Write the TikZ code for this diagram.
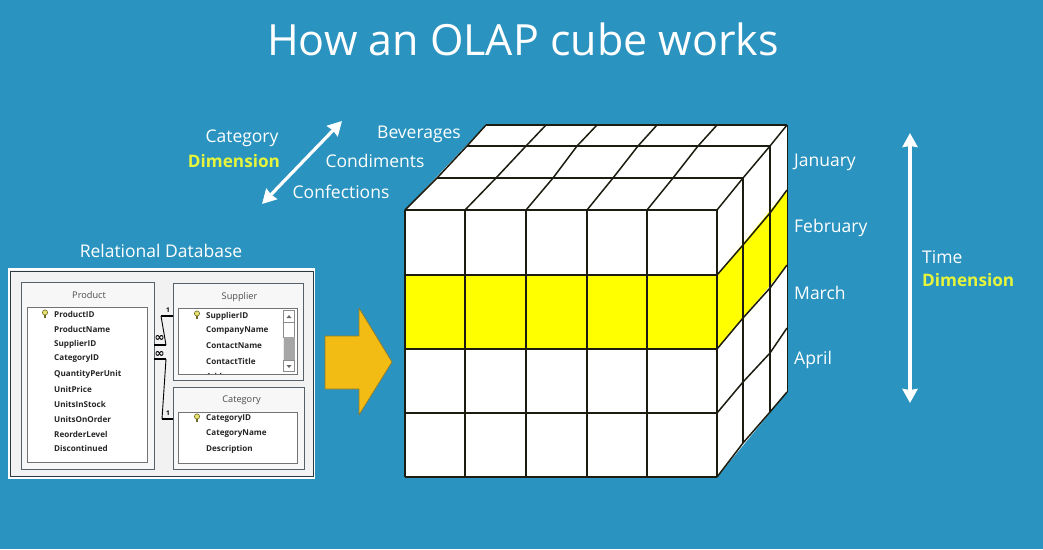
\documentclass[tikz,border=0pt]{standalone}
\usepackage{fontspec}
\usetikzlibrary{arrows.meta}
\setmainfont{Open Sans}
\newfontfamily\dbfont{Open Sans}
\newfontfamily\symfont{DejaVu Sans}
\definecolor{bgblue}{HTML}{2A93BF}
\definecolor{dimyel}{HTML}{E6F53C}
\definecolor{cubeyel}{HTML}{FFFF00}
\definecolor{cubeline}{HTML}{1C1C10}
\definecolor{arrowor}{HTML}{F2BC14}
\definecolor{arrowedge}{HTML}{8C7A30}
\definecolor{paneldark}{HTML}{2B3A40}
\tikzset{
 x=1pt,y=-1pt,
 lbl/.style={text=white,font=\fontsize{17.5}{19}\selectfont,inner sep=0pt},
 dimlbl/.style={text=dimyel,font=\fontsize{17.2}{19}\bfseries\selectfont,inner sep=0pt},
 cubeedge/.style={draw=cubeline,line width=1.5pt,line join=round},
 dblarrow/.style={draw=white,line width=3.2pt,{Stealth[length=14pt,width=15pt,inset=1pt]}-{Stealth[length=14pt,width=15pt,inset=1pt]}},
 tbox/.style={draw=paneldark!80,line width=.8pt,fill=black!3},
 ibox/.style={draw=black!55,line width=.6pt,fill=white},
 field/.style={anchor=west,inner sep=0pt,text=black!85,font=\dbfont\fontsize{8.1}{9}\bfseries\selectfont},
 ttl/.style={inner sep=0pt,text=black!70,font=\dbfont\fontsize{9.2}{10}\selectfont},
 rel/.style={draw=black,line width=.9pt},
 relthick/.style={draw=black,line width=2pt},
 card/.style={inner sep=0pt,font=\dbfont\fontsize{6.5}{7}\bfseries\selectfont},
 inf/.style={inner sep=0pt,font=\symfont\fontsize{12}{12}\bfseries\selectfont},
 keyicon/.pic={\draw[draw=olive!70!black,fill=yellow!60!olive!50,line width=.6pt] (0,-1.5) circle (2.6);
   \draw[olive!70!black,line width=1.3pt] (0,1) -- (0,4);}
}
\begin{document}
\begin{tikzpicture}
\useasboundingbox (0,0) rectangle (1043,549);
\fill[bgblue] (0,0) rectangle (1043,549);
% title
\node[text=white,inner sep=0pt,font=\fontsize{43}{50}\selectfont] (title) at (523,39) {How an OLAP cube works};
% cube body
\fill[white] (405,210) -- (486,125) -- (787,125) -- (787,392) -- (717,477) -- (405,477) -- cycle;
% yellow bands
\fill[cubeyel] (405,275) rectangle (717,349);
\fill[cubeyel] (717,275) -- (787,190) -- (787,265) -- (717,349) -- cycle;
% front grid
\foreach \x in {405,465,526,587,647,717} \draw[cubeedge] (\x,210) -- (\x,477);
\foreach \y in {210,275,349,413,477} \draw[cubeedge] (405,\y) -- (717,\y);
% side verticals
\draw[cubeedge] (743,178) -- (743,443);
\draw[cubeedge] (770,146) -- (770,412);
\draw[draw=cubeline,line width=1pt] (787,125) -- (787,392);
% side lines
\draw[cubeedge] (717,275) -- (743,245) -- (770,213) -- (787,190);
\draw[cubeedge] (717,349) -- (743,318) -- (770,288) -- (787,265);
\draw[cubeedge] (717,413) -- (743,382) -- (770,353) -- (787,328);
\draw[cubeedge] (717,477) -- (743,443) -- (770,412) -- (787,392);
% top rows
\draw[cubeedge] (486,125) -- (787,125);
\draw[cubeedge] (467,146) -- (770,146);
\draw[cubeedge] (437,178) -- (743,178);
% top depth lines
\draw[cubeedge] (405,210) -- (437,178) -- (467,146) -- (486,125);
\draw[cubeedge] (465,210) -- (496,178) -- (526,146) -- (546,125);
\draw[cubeedge] (526,210) -- (553,178) -- (577,146) -- (597,125);
\draw[cubeedge] (587,210) -- (613,178) -- (638,146) -- (657,125);
\draw[cubeedge] (647,210) -- (673,178) -- (698,146) -- (717,125);
\draw[cubeedge] (717,210) -- (743,178) -- (770,146) -- (787,125);
% labels
\node[lbl] (cat) at (242,138.5) {Category};
\node[dimlbl] (catdim) at (234,161) {Dimension};
\node[lbl] (bev) at (419,134.5) {Beverages};
\node[lbl] (cond) at (375,161) {Condiments};
\node[lbl] (conf) at (341,192) {Confections};
\node[lbl] (reldb) at (161,251) {Relational Database};
\node[lbl,anchor=west] (jan) at (794,162) {January};
\node[lbl,anchor=west] (feb) at (794,228) {February};
\node[lbl,anchor=west] (mar) at (794,292.5) {March};
\node[lbl,anchor=west] (apr) at (794,360) {April};
\node[lbl,anchor=west] (time) at (922,257) {Time};
\node[dimlbl,anchor=west] (timedim) at (922,280) {Dimension};
% double arrows
\coordinate (ca) at (342,121); \coordinate (cb) at (262,204);
\draw[dblarrow] (ca) -- (cb);
\coordinate (ta) at (910,133); \coordinate (tb) at (910,403);
\draw[dblarrow] (ta) -- (tb);
% block arrow
\draw[arrowedge,line width=.7pt,fill=arrowor,line join=round] (325,336) -- (359,336) -- (359,308) -- (392,362) -- (359,415) -- (359,389) -- (325,389) -- cycle;
% DB panel
\draw[draw=white,line width=1.5pt,fill=black!5] (9,269) rectangle (314,478);
\draw[draw=paneldark,line width=.8pt] (10.5,271) rectangle (313,476.5);
\draw[tbox] (21,282) rectangle (154,469);
\draw[ibox] (27,307) rectangle (147,462);
\draw[tbox] (173,283) rectangle (303,380);
\draw[ibox] (178,308) rectangle (297,374);
\draw[tbox] (173,387) rectangle (304,469);
\draw[ibox] (178,412) rectangle (297,463);
\node[ttl] (tp) at (89,295) {Product};
\node[ttl] (ts) at (239.5,297) {Supplier};
\node[ttl] (tc) at (241.5,400) {Category};
\foreach \n/\y in {ProductID/314,ProductName/329,SupplierID/344,CategoryID/359,QuantityPerUnit/374,UnitPrice/389,UnitsInStock/404,UnitsOnOrder/419,ReorderLevel/434,Discontinued/448}
  \node[field] (p\n) at (54,\y) {\n};
\foreach \n/\y in {SupplierID/316,CompanyName/331,ContactName/346,ContactTitle/361}
  \node[field] (s\n) at (206,\y) {\n};
\begin{scope}
\clip (178,308) rectangle (283,373.5);
\node[field] (sAddress) at (206,376) {Address};
\end{scope}
\foreach \n/\y in {CategoryID/419,CategoryName/434,Description/449}
  \node[field] (c\n) at (206,\y) {\n};
\pic at (45,314) {keyicon};
\pic at (197,315) {keyicon};
\pic at (197,418) {keyicon};
% scrollbar
\fill[black!8] (283,310) rectangle (295,372);
\draw[black!45,line width=.4pt,fill=white] (283.5,310.5) rectangle (294.5,322);
\draw[black!45,line width=.4pt,fill=white] (283.5,322) rectangle (294.5,337);
\fill[black!35] (283.5,337) rectangle (294.5,360);
\draw[black!45,line width=.4pt,fill=white] (283.5,360) rectangle (294.5,371.5);
\fill[black!60] (286.5,318) -- (291.5,318) -- (289,315) -- cycle;
\fill[black!60] (286.5,365) -- (291.5,365) -- (289,368) -- cycle;
% relationships
\coordinate (r1a) at (173,316); \coordinate (r1b) at (161,316);
\coordinate (r1c) at (166,345); \coordinate (r1d) at (154,345);
\draw[relthick] (r1a) -- (r1b);
\draw[rel] (r1b) -- (r1c);
\draw[relthick] (r1c) -- (r1d);
\coordinate (r2a) at (154,359); \coordinate (r2b) at (166,359);
\coordinate (r2c) at (162,419); \coordinate (r2d) at (173,419);
\draw[relthick] (r2a) -- (r2b);
\draw[rel] (r2b) -- (r2c);
\draw[relthick] (r2c) -- (r2d);
\node[card] (c1) at (168,310) {1};
\node[card] (c2) at (168,413) {1};
\node[inf] (i1) at (159.5,338.5) {∞};
\node[inf] (i2) at (159.5,354) {∞};
\end{tikzpicture}
\end{document}
